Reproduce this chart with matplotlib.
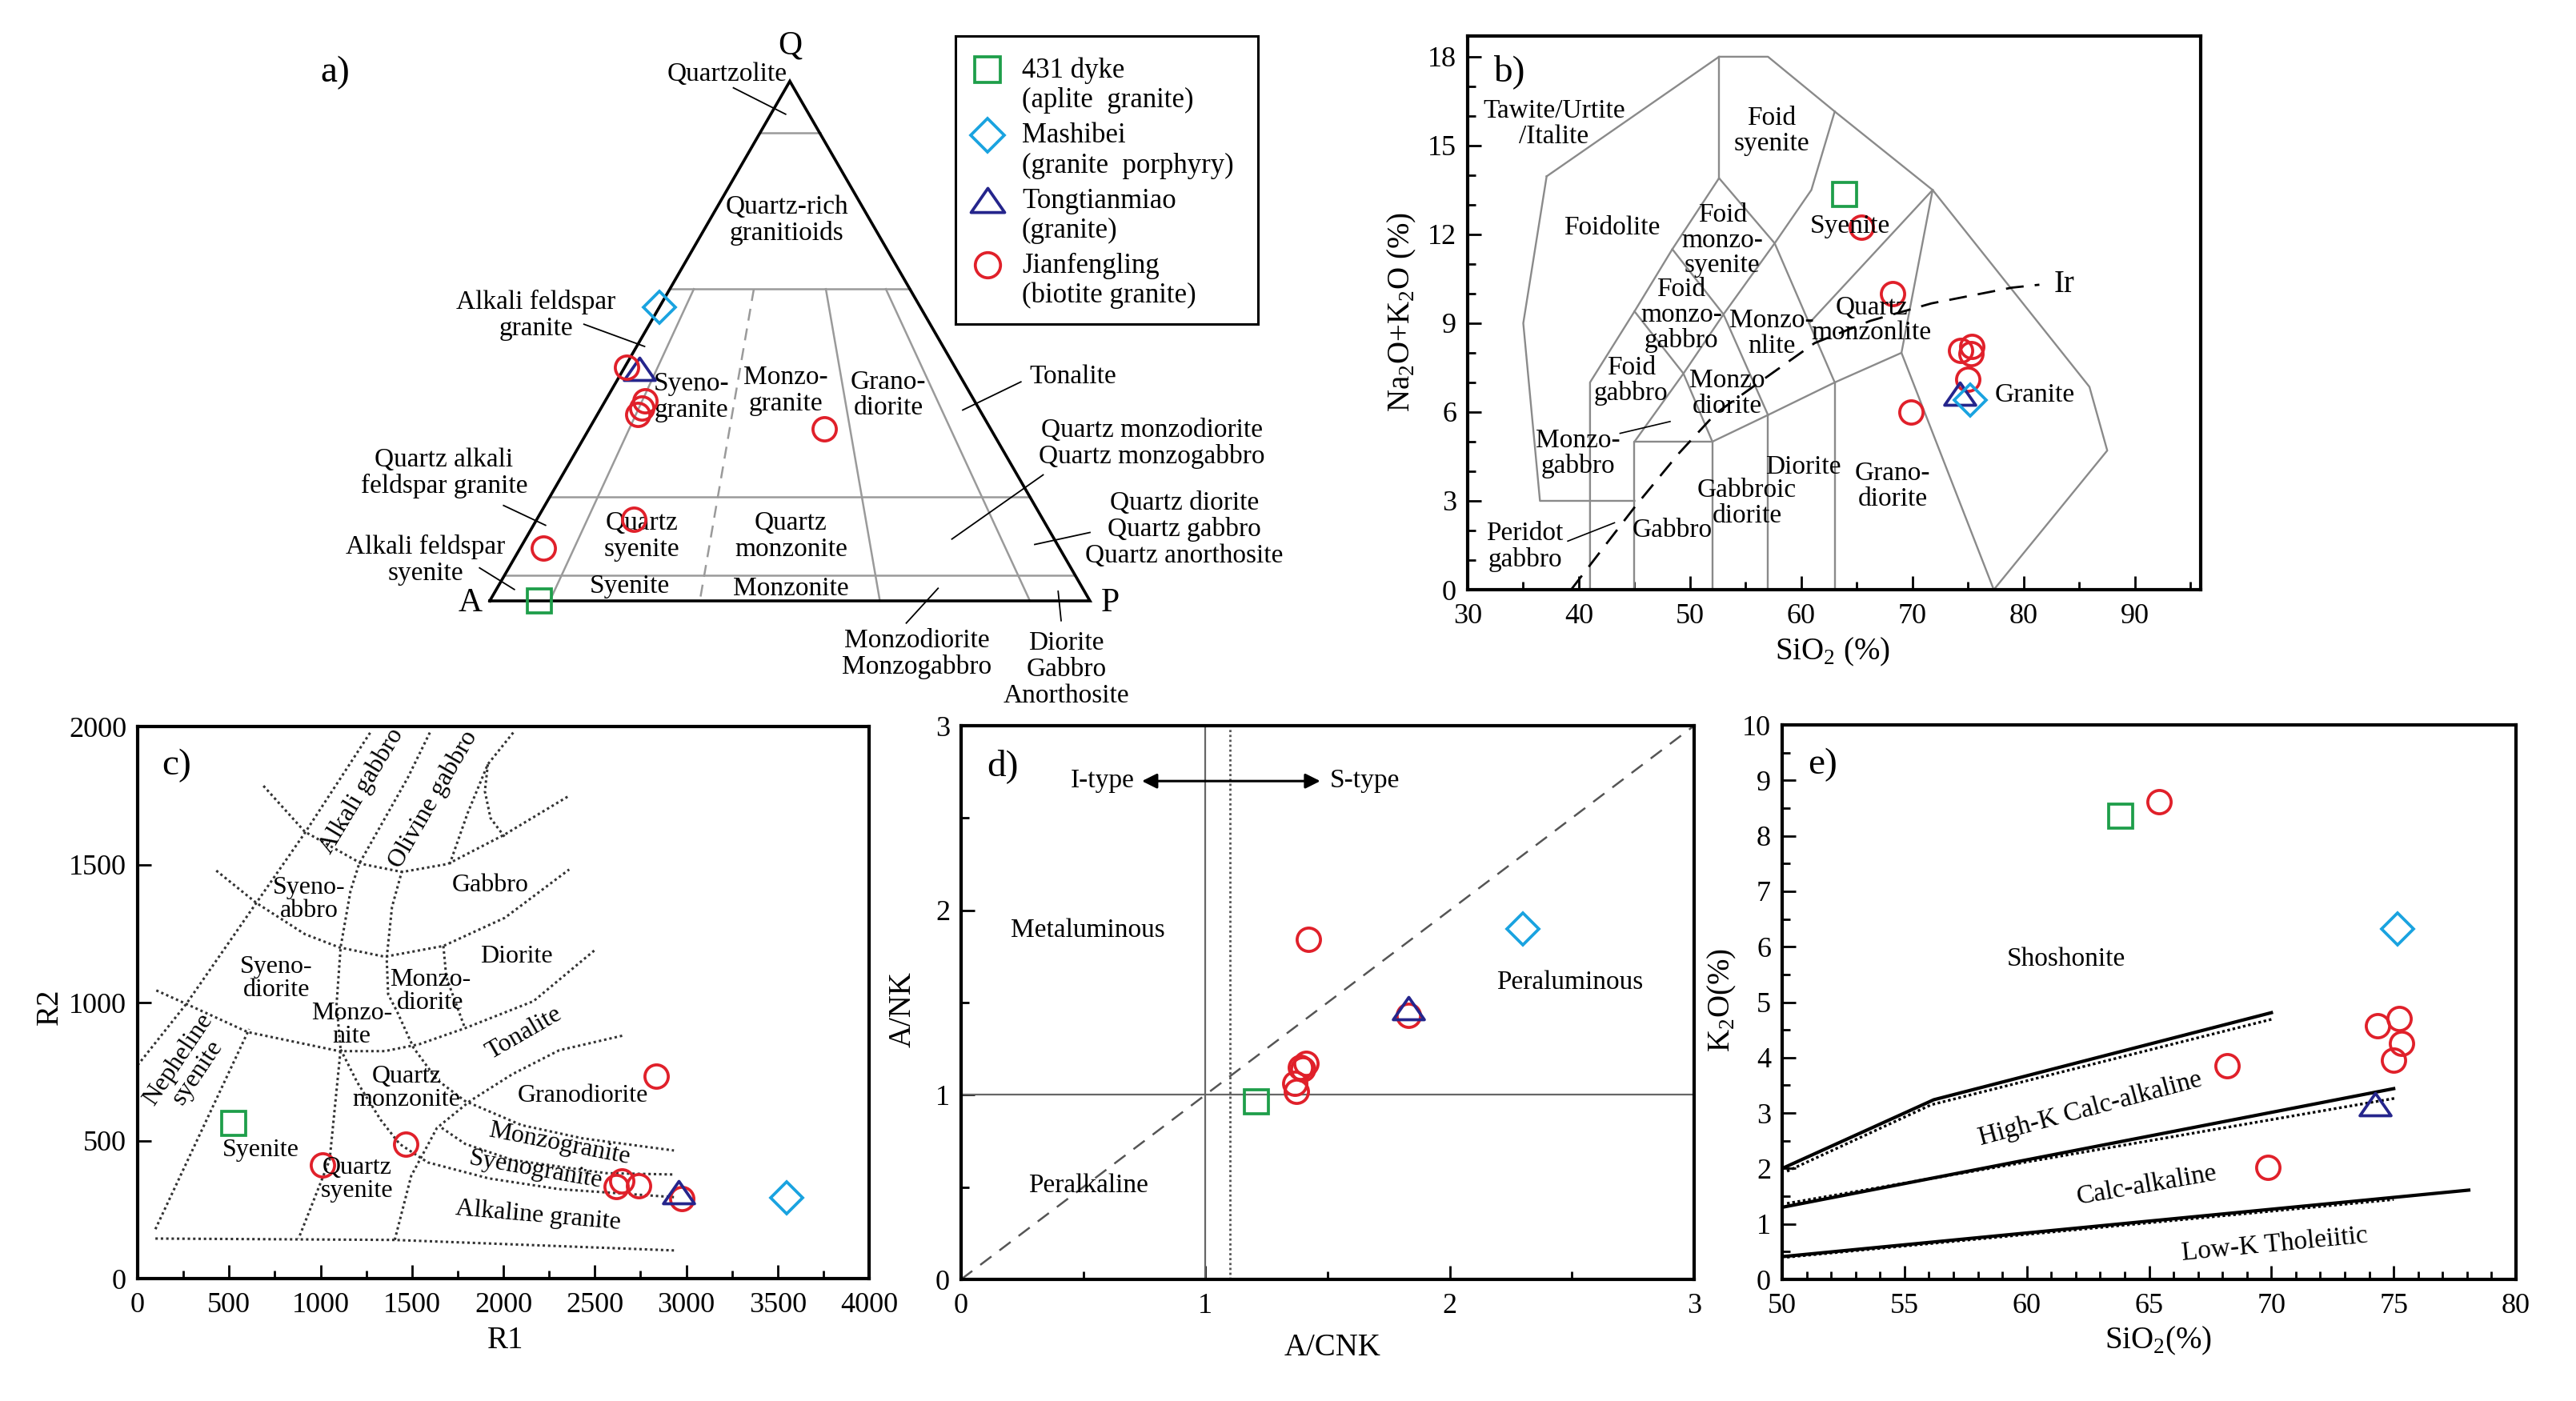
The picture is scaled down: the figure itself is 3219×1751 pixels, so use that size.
import numpy as np
import matplotlib
matplotlib.use('Agg')
import matplotlib.pyplot as plt
from matplotlib.path import Path
from matplotlib.ticker import MultipleLocator

# ---------------- data ----------------
legend_names = ['431 dyke', 'Mashibei', 'Tongtianmiao', 'Jianfengling']
legend_notes = ['(aplite  granite)', '(granite  porphyry)', '(granite)', '(biotite granite)']

# a) QAP modal composition (%)
dyke_Q = [0.0];  dyke_A = [91.7]; dyke_P = [8.3]
mash_Q = [56.5]; mash_A = [43.5]; mash_P = [0.0]
tong_Q = [44.7]; tong_A = [52.7]; tong_P = [2.6]
jian_Q = [44.9, 38.5, 37.1, 35.8, 33.1, 15.7, 10.2]
jian_A = [54.7, 54.9, 56.1, 57.4, 27.7, 68.1, 86.0]
jian_P = [0.4, 6.6, 6.8, 6.8, 39.2, 16.2, 3.8]

# b, e) SiO2, Na2O+K2O, K2O (wt%)
dyke_SiO2 = [63.85]; dyke_ALK = [13.35]; dyke_K2O = [8.36]
mash_SiO2 = [75.15]; mash_ALK = [6.40];  mash_K2O = [6.32]
tong_SiO2 = [74.25]; tong_ALK = [6.62];  tong_K2O = [3.16]
jian_SiO2 = [65.4, 68.2, 69.85, 74.35, 75.0, 75.22, 75.33]
jian_ALK = [12.23, 10.0, 6.0, 8.07, 7.11, 7.96, 8.21]
jian_K2O = [8.61, 3.85, 2.02, 4.58, 3.95, 4.70, 4.26]

# c) R1-R2
dyke_R1 = [524];  dyke_R2 = [561]
mash_R1 = [3550]; mash_R2 = [294]
tong_R1 = [2958]; tong_R2 = [312]
jian_R1 = [2838, 1468, 1012, 2618, 2648, 2741, 2974]
jian_R2 = [733, 488, 412, 332, 355, 335, 289]

# d) A/CNK - A/NK
dyke_ACNK = [1.209]; dyke_ANK = [0.964]
mash_ACNK = [2.30];  mash_ANK = [1.90]
tong_ACNK = [1.832]; tong_ANK = [1.47]
jian_ACNK = [1.423, 1.832, 1.41, 1.40, 1.39, 1.367, 1.371]
jian_ANK = [1.843, 1.429, 1.17, 1.14, 1.15, 1.063, 1.02]

# ---------------- style ----------------
plt.rcParams['font.family'] = ['Liberation Serif', 'DejaVu Serif']
plt.rcParams['mathtext.fontset'] = 'custom'
plt.rcParams['mathtext.rm'] = 'Liberation Serif'

W, H = 3219, 1751
fig = plt.figure(figsize=(W / 100, H / 100), dpi=100)
fig.patch.set_facecolor('white')

LFS = 24      # region labels
TFS = 26      # tick labels
AFS = 28      # axis labels
PFS = 34      # panel letters

TRI = Path([(0, 0.72), (-1, -0.72), (1, -0.72), (0, 0.72)],
           [Path.MOVETO, Path.LINETO, Path.LINETO, Path.CLOSEPOLY])
STY = {
    'dyke': dict(marker='s', ms=21, mfc='none', mec='#1e9e4a', mew=2.7, ls='none'),
    'mash': dict(marker='D', ms=20, mfc='none', mec='#1aa3e0', mew=2.7, ls='none'),
    'tong': dict(marker=TRI, ms=28, mfc='none', mec='#25258c', mew=2.7, ls='none'),
    'jian': dict(marker='o', ms=21, mfc='none', mec='#e0202a', mew=2.7, ls='none'),
}


def add_ax(x0, y0, x1, y1):
    return fig.add_axes([x0 / W, 1 - y1 / H, (x1 - x0) / W, (y1 - y0) / H])


def ftext(x, y, s, **kw):
    fig.text(x / W, 1 - y / H, s, **kw)


def style_axes(ax):
    for sp in ax.spines.values():
        sp.set_linewidth(3.0)
    ax.tick_params(which='both', direction='in', top=False, right=False,
                   labelsize=TFS, width=2.0)
    ax.tick_params(axis='x', pad=12)
    ax.tick_params(axis='y', pad=10)
    ax.tick_params(which='major', length=12)
    ax.tick_params(which='minor', length=7)


# ================= a) QAP ternary =================
h = np.sqrt(3) / 2


def tern(Q, A, P):
    Q, A, P = (np.asarray(v, dtype=float) for v in (Q, A, P))
    s = Q + A + P
    return (P + Q / 2) / s * 100, Q / s * 100 * h


axa = add_ax(380, 40, 1640, 900)
axa.set_xlim((380 - 612) / 7.5, (1640 - 612) / 7.5)
axa.set_ylim((751 - 900) / 7.5, (751 - 40) / 7.5)
axa.axis('off')
GR = '#9a9a9a'
for q in [90, 60, 20, 5]:
    x0, y0 = tern(q, 100 - q, 0)
    x1, y1 = tern(q, 0, 100 - q)
    axa.plot([x0, x1], [y0, y1], color=GR, lw=1.8)
for r in [0.10, 0.35, 0.65, 0.90]:
    x0, y0 = tern(60, 40 * (1 - r), 40 * r)
    x1, y1 = tern(0, 100 * (1 - r), 100 * r)
    if r == 0.35:
        axa.plot([x0, x1], [y0, y1], color=GR, lw=1.8, ls=(0, (6, 4)))
    else:
        axa.plot([x0, x1], [y0, y1], color=GR, lw=1.8)
axa.plot([0, 100, 50, 0], [0, 0, 100 * h, 0], color='k', lw=2.6, solid_joinstyle='miter')

labels_a = [
    ('Quartzolite', 39.6, 87.7), ('Quartz-rich\ngranitioids', 49.5, 63.4),
    ('Alkali feldspar\ngranite', 7.7, 47.6), ('Syeno-\ngranite', 33.6, 34.0),
    ('Monzo-\ngranite', 49.3, 35.0), ('Grano-\ndiorite', 66.4, 34.3),
    ('Tonalite', 97.2, 37.4), ('Quartz monzodiorite\nQuartz monzogabbro', 110.3, 26.2),
    ('Quartz diorite\nQuartz gabbro\nQuartz anorthosite', 115.7, 11.9),
    ('Quartz alkali\nfeldspar granite', -7.6, 21.3),
    ('Alkali feldspar\nsyenite', -10.7, 6.8),
    ('Quartz\nsyenite', 25.3, 10.8), ('Quartz\nmonzonite', 50.2, 10.8),
    ('Syenite', 23.3, 2.4), ('Monzonite', 50.2, 2.1),
    ('Monzodiorite\nMonzogabbro', 71.2, -8.8),
    ('Diorite\nGabbro\nAnorthosite', 96.1, -11.4),
]
for s, x, y in labels_a:
    axa.text(x, y, s, ha='center', va='center', fontsize=LFS, linespacing=1.1)
for s, x, y in [('Q', 50, 92.5), ('A', -3.2, -0.4), ('P', 103.4, -0.4)]:
    axa.text(x, y, s, ha='center', va='center', fontsize=30)
axa.text(-25.7, 88.0, 'a)', ha='center', va='center', fontsize=PFS)
leaders_a = [((40.6, 85.5), (49.3, 81.1)), ((15.7, 46.1), (25.8, 42.4)),
             ((88.5, 36.5), (78.8, 31.8)), ((92.2, 21.0), (77.0, 10.3)),
             ((100.0, 11.4), (90.8, 9.4)), ((2.3, 15.9), (9.3, 12.6)),
             ((-1.7, 5.5), (4.1, 1.9)), ((69.4, -3.7), (74.7, 2.1)),
             ((95.2, -3.3), (94.7, 1.6))]
for (x0, y0), (x1, y1) in leaders_a:
    axa.plot([x0, x1], [y0, y1], color='k', lw=1.3)

for key, (Q, A, P) in [('dyke', (dyke_Q, dyke_A, dyke_P)), ('mash', (mash_Q, mash_A, mash_P)),
                       ('tong', (tong_Q, tong_A, tong_P)), ('jian', (jian_Q, jian_A, jian_P))]:
    x, y = tern(Q, A, P)
    axa.plot(x, y, clip_on=False, zorder=5, **STY[key])

# legend box
axl = add_ax(1194, 45, 1572, 405)
axl.set_xlim(0, 378)
axl.set_ylim(360, 0)
axl.set_xticks([])
axl.set_yticks([])
for sp in axl.spines.values():
    sp.set_linewidth(2.2)
leg_y = [42, 124, 205, 286]
for key, name, note, y in zip(['dyke', 'mash', 'tong', 'jian'], legend_names, legend_notes, leg_y):
    st = dict(STY[key])
    st['ms'] = st['ms'] * 1.08
    axl.plot([40], [y], **st)
    axl.text(83, y + 1, name, ha='left', va='center', fontsize=25)
    axl.text(83, y + 38, note, ha='left', va='center', fontsize=25)

# ================= b) TAS =================
axb = add_ax(1834, 45, 2750, 737)
axb.set_xlim(30, 95.9)
axb.set_ylim(0, 18.7)
style_axes(axb)
axb.xaxis.set_major_locator(MultipleLocator(10))
axb.xaxis.set_minor_locator(MultipleLocator(5))
axb.yaxis.set_major_locator(MultipleLocator(3))
axb.yaxis.set_minor_locator(MultipleLocator(1))
tas_lines = [
    [(37.1, 13.96), (52.6, 18.0), (57.0, 18.0), (63.0, 16.15), (71.8, 13.5), (85.9, 6.85), (87.5, 4.7), (77.3, 0)],
    [(37.1, 13.96), (35.0, 9.0), (36.5, 3.0), (45, 3)],
    [(52.6, 18.0), (52.6, 13.9)],
    [(63.0, 16.15), (60.9, 13.5), (57.6, 11.7)],
    [(41, 0), (41, 7), (45, 9.4), (48.4, 11.5), (52.6, 13.9), (57.6, 11.7), (63, 7)],
    [(45, 0), (45, 5), (52, 5), (52, 0)],
    [(45, 5), (49.4, 7.3), (52, 5)],
    [(45, 9.4), (49.4, 7.3), (53, 9.3), (57, 5.9)],
    [(48.4, 11.5), (53, 9.3), (57.6, 11.7)],
    [(52, 5), (57, 5.9), (63, 7), (69, 8), (77.3, 0)],
    [(57, 0), (57, 5.9)], [(63, 0), (63, 7)],
    [(69, 8), (71.8, 13.5)], [(71.8, 13.5), (60.7, 9.0)],
]
for ln in tas_lines:
    xs, ys = zip(*ln)
    axb.plot(xs, ys, color='#8a8a8a', lw=1.7)
ir_x = [39.3, 42.35, 45.1, 49.0, 52.3, 56.2, 61.2, 66.2, 71.7, 78.9, 81.4]
ir_y = [0, 1.49, 2.83, 4.61, 5.95, 7.0, 8.33, 9.08, 9.67, 10.2, 10.3]
axb.plot(ir_x, ir_y, color='k', lw=2.0, ls=(0, (8, 5)))
axb.text(83.6, 10.3, 'Ir', ha='center', va='center', fontsize=28)
labels_b = [
    ('Tawite/Urtite\n/Italite', 37.75, 15.74), ('Foid\nsyenite', 57.3, 15.5),
    ('Foidolite', 43.0, 12.23), ('Foid\nmonzo-\nsyenite', 52.9, 11.8),
    ('Syenite', 64.4, 12.28), ('Foid\nmonzo-\ngabbro', 49.2, 9.27),
    ('Monzo-\nnlite', 57.3, 8.66), ('Quartz\nmonzonlite', 66.3, 9.1),
    ('Foid\ngabbro', 44.7, 7.07), ('Monzo\ndiorite', 53.3, 6.62),
    ('Granite', 81.0, 6.58), ('Monzo-\ngabbro', 39.9, 4.6),
    ('Diorite', 60.2, 4.14), ('Grano-\ndiorite', 68.2, 3.5),
    ('Gabbroic\ndiorite', 55.1, 2.93), ('Gabbro', 48.4, 2.0),
    ('Peridot\ngabbro', 35.15, 1.45),
]
for s, x, y in labels_b:
    axb.text(x, y, s, ha='center', va='center', fontsize=LFS, linespacing=1.05)
axb.plot([43.7, 48.2], [5.28, 5.68], color='k', lw=1.2)
axb.plot([39.0, 43.2], [1.64, 2.26], color='k', lw=1.2)
axb.text(33.7, 17.5, 'b)', ha='center', va='center', fontsize=PFS)
axb.plot(dyke_SiO2, dyke_ALK, **STY['dyke'])
axb.plot(jian_SiO2, jian_ALK, **STY['jian'])
axb.plot(tong_SiO2, tong_ALK, **STY['tong'])
axb.plot(mash_SiO2, mash_ALK, **STY['mash'])
ftext(1752, 390, 'Na$_\\mathregular{2}$O+K$_\\mathregular{2}$O (%)', rotation=90,
      ha='center', va='center', fontsize=AFS)
ftext(2290, 815, 'SiO$_\\mathregular{2}$ (%)', ha='center', va='center', fontsize=AFS)

# ================= c) R1-R2 =================
axc = add_ax(172, 908, 1086, 1598)
axc.set_xlim(0, 4000)
axc.set_ylim(0, 2000)
style_axes(axc)
axc.xaxis.set_major_locator(MultipleLocator(500))
axc.xaxis.set_minor_locator(MultipleLocator(250))
axc.yaxis.set_major_locator(MultipleLocator(500))
c_lines = [
    [(0, 773), (266, 995), (649, 1361), (914, 1614), (1274, 1980)],
    [(1598, 1978), (1477, 1814), (1211, 1502), (1164, 1404), (1110, 1200), (1088, 995),
     (1110, 830), (1050, 430), (880, 145)],
    [(2054, 1978), (1915, 1863), (1805, 1687), (1704, 1497)],
    [(1915, 1863), (1899, 1765), (1930, 1668), (2008, 1599)],
    [(1446, 1478), (1391, 1346), (1362, 1161), (1370, 1030), (1419, 967), (1509, 836),
     (1637, 720), (1791, 643), (2099, 556), (2433, 508), (2933, 464)],
    [(1672, 1205), (1688, 1092), (1790, 907)],
    [(1110, 830), (1201, 711), (1329, 575), (1432, 488), (1586, 421), (1920, 363),
     (2305, 324), (2933, 295)],
    [(1663, 546), (1791, 488), (2048, 430), (2561, 382), (2933, 377)],
    [(1406, 140), (1496, 372), (1637, 546), (1817, 643), (2048, 740), (2305, 827), (2651, 880)],
    [(97, 145), (1406, 140), (2933, 102)],
    [(97, 179), (610, 904)],
    [(688, 1785), (914, 1619), (1227, 1502), (1446, 1473), (1696, 1502), (2008, 1609), (2352, 1746)],
    [(430, 1478), (649, 1361), (914, 1248), (1102, 1200), (1352, 1166), (1672, 1205),
     (2008, 1307), (2360, 1482)],
    [(102, 1044), (266, 995), (602, 893), (1102, 824), (1352, 824), (1540, 849),
     (1790, 907), (2165, 1005), (2500, 1190)],
]
for ln in c_lines:
    xs, ys = zip(*ln)
    axc.plot(xs, ys, color='#333333', lw=2.2, ls=(0, (1, 1.2)))
labels_c = [
    ('Alkali gabbro', 1227, 1765, 59), ('Olivine gabbro', 1618, 1736, 60),
    ('Syeno-\nabbro', 937, 1375, 0), ('Gabbro', 1930, 1424, 0),
    ('Syeno-\ndiorite', 758, 1088, 0), ('Diorite', 2071, 1166, 0),
    ('Monzo-\ndiorite', 1600, 1040, 0), ('Monzo-\nnite', 1170, 918, 0),
    ('Tonalite', 2112, 890, 30), ('Nepheline\nsyenite', 277, 769, 56),
    ('Quartz\nmonzonite', 1470, 691, 0), ('Granodiorite', 2433, 662, 0),
    ('Monzogranite', 2305, 488, -11), ('Syenogranite', 2176, 392, -10),
    ('Syenite', 675, 464, 0), ('Quartz\nsyenite', 1201, 358, 0),
    ('Alkaline granite', 2189, 227, -5),
]
for s, x, y, rot in labels_c:
    axc.text(x, y, s, ha='center', va='center', fontsize=LFS - 1, rotation=rot,
             rotation_mode='anchor', linespacing=1.0)
axc.text(215, 1859, 'c)', ha='center', va='center', fontsize=PFS)
axc.plot(dyke_R1, dyke_R2, **STY['dyke'])
axc.plot(jian_R1, jian_R2, **STY['jian'])
axc.plot(tong_R1, tong_R2, **STY['tong'])
axc.plot(mash_R1, mash_R2, **STY['mash'])
ftext(62, 1258, 'R2', rotation=90, ha='center', va='center', fontsize=AFS)
ftext(632, 1675, 'R1', ha='center', va='center', fontsize=AFS)

# ================= d) A/CNK - A/NK =================
axd = add_ax(1201, 907, 2117, 1599)
axd.set_xlim(0, 3)
axd.set_ylim(0, 3)
style_axes(axd)
axd.xaxis.set_major_locator(MultipleLocator(1))
axd.xaxis.set_minor_locator(MultipleLocator(0.5))
axd.yaxis.set_major_locator(MultipleLocator(1))
axd.yaxis.set_minor_locator(MultipleLocator(0.5))
axd.plot([0, 3], [0, 3], color='#555555', lw=1.8, ls=(0, (7, 5)))
axd.axvline(1.0, color='#666666', lw=1.6)
axd.axvline(1.1, color='#555555', lw=2.0, ls=(0, (1, 1.2)))
axd.axhline(1.0, color='#666666', lw=1.6)
axd.annotate('', xy=(0.74, 2.70), xytext=(1.47, 2.70),
             arrowprops=dict(arrowstyle='<|-|>', color='k', lw=2.2, mutation_scale=28,
                             shrinkA=0, shrinkB=0))
axd.text(0.71, 2.70, 'I-type', ha='right', va='center', fontsize=LFS)
axd.text(1.51, 2.70, 'S-type', ha='left', va='center', fontsize=LFS)
axd.text(0.52, 1.89, 'Metaluminous', ha='center', va='center', fontsize=LFS)
axd.text(2.49, 1.61, 'Peraluminous', ha='center', va='center', fontsize=LFS)
axd.text(0.52, 0.51, 'Peralkaline', ha='center', va='center', fontsize=LFS)
axd.text(0.17, 2.78, 'd)', ha='center', va='center', fontsize=PFS)
axd.plot(dyke_ACNK, dyke_ANK, **STY['dyke'])
axd.plot(jian_ACNK, jian_ANK, **STY['jian'])
axd.plot(tong_ACNK, tong_ANK, **STY['tong'])
axd.plot(mash_ACNK, mash_ANK, **STY['mash'])
ftext(1128, 1262, 'A/NK', rotation=90, ha='center', va='center', fontsize=AFS)
ftext(1665, 1684, 'A/CNK', ha='center', va='center', fontsize=AFS)

# ================= e) SiO2 - K2O =================
axe = add_ax(2227, 906, 3144, 1599)
axe.set_xlim(50, 80)
axe.set_ylim(0, 10)
style_axes(axe)
axe.xaxis.set_major_locator(MultipleLocator(5))
axe.xaxis.set_minor_locator(MultipleLocator(1))
axe.yaxis.set_major_locator(MultipleLocator(1))
axe.yaxis.set_minor_locator(MultipleLocator(0.5))
e_solid = [
    [(50, 2.0), (56.2, 3.24), (70.0, 4.81)],
    [(50, 1.30), (75.0, 3.44)],
    [(50, 0.41), (78.07, 1.61)],
]
e_dotted = [
    [(50.2, 1.95), (56.1, 3.15), (70.0, 4.69)],
    [(50.2, 1.37), (75.1, 3.27)],
    [(50.2, 0.40), (75.0, 1.44)],
]
for ln in e_solid:
    xs, ys = zip(*ln)
    axe.plot(xs, ys, color='k', lw=3.0)
for ln in e_dotted:
    xs, ys = zip(*ln)
    axe.plot(xs, ys, color='k', lw=2.4, ls=(0, (1, 1)))
axe.text(61.6, 5.78, 'Shoshonite', ha='center', va='center', fontsize=LFS)
axe.text(62.6, 3.07, 'High-K Calc-alkaline', ha='center', va='center', fontsize=LFS,
         rotation=15, rotation_mode='anchor')
axe.text(64.9, 1.69, 'Calc-alkaline', ha='center', va='center', fontsize=LFS,
         rotation=10, rotation_mode='anchor')
axe.text(70.15, 0.63, 'Low-K Tholeiitic', ha='center', va='center', fontsize=LFS,
         rotation=5.5, rotation_mode='anchor')
axe.text(51.65, 9.28, 'e)', ha='center', va='center', fontsize=PFS)
axe.plot(dyke_SiO2, dyke_K2O, **STY['dyke'])
axe.plot(jian_SiO2, jian_K2O, **STY['jian'])
axe.plot(tong_SiO2, tong_K2O, **STY['tong'])
axe.plot(mash_SiO2, mash_K2O, **STY['mash'])
ftext(2152, 1250, 'K$_\\mathregular{2}$O(%)', rotation=90, ha='center', va='center', fontsize=AFS)
ftext(2697, 1676, 'SiO$_\\mathregular{2}$(%)', ha='center', va='center', fontsize=AFS)

fig.savefig('out.png', dpi=100, facecolor='white')
